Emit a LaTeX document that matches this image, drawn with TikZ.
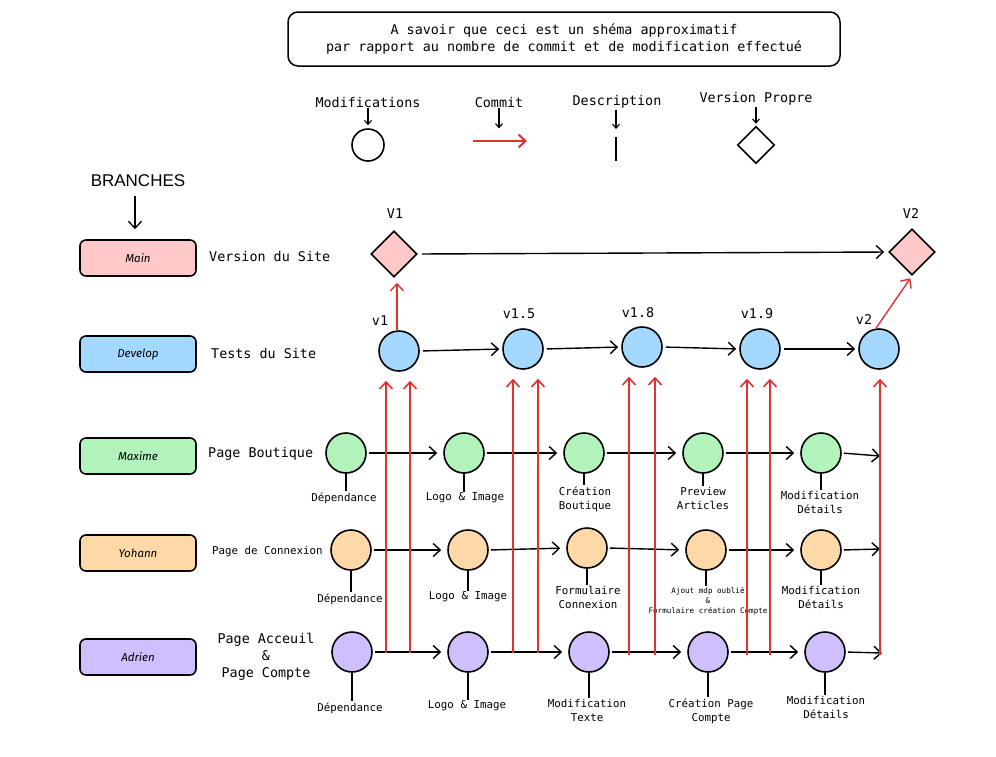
\documentclass[tikz,border=0pt]{standalone}
\usepackage{fontspec}
\setmainfont{DejaVu Sans Mono}
\newfontfamily\handfont{Fira Sans}
\newfontfamily\headfont{Liberation Sans}
\usetikzlibrary{arrows.meta,shapes.geometric}
\definecolor{cmain}{HTML}{FFC9C9}
\definecolor{cdev}{HTML}{A5D8FF}
\definecolor{cmax}{HTML}{B2F2BB}
\definecolor{cyoh}{HTML}{FFD8A8}
\definecolor{cadr}{HTML}{D0BFFF}
\definecolor{cred}{HTML}{E03131}
\tikzset{
  branchbox/.style={draw, rounded corners=6pt, line width=1.6pt, minimum width=116pt, minimum height=36pt, font=\handfont\itshape\fontsize{11.5}{13}\selectfont},
  modif/.style={draw, circle, minimum size=40pt, inner sep=0pt, line width=1.6pt},
  vers/.style={draw, diamond, minimum size=46pt, inner sep=0pt, line width=1.6pt},
  arr/.style={-{Straight Barb[length=7pt,width=13pt]}, line width=1.4pt},
  commitarr/.style={arr, draw=cred},
  desc/.style={line width=1.6pt},
  lbl/.style={font=\fontsize{10.8}{14}\selectfont, align=center, inner sep=1pt},
  big/.style={font=\fontsize{13.4}{17}\selectfont, align=center, inner sep=1pt},
  tiny/.style={font=\fontsize{7.6}{10}\selectfont, align=center, inner sep=1pt},
  smallarr/.style={line width=1.1pt, -{Straight Barb[length=4pt,width=7pt]}},
}
\begin{document}
\begin{tikzpicture}[x=1pt,y=-1pt]
\useasboundingbox[fill=white] (0,0) rectangle (996,756);

% top note
\node[draw, rounded corners=10pt, line width=1.5pt, minimum width=552pt, minimum height=54pt, big] (note) at (564,39)
  {A savoir que ceci est un shéma approximatif\\par rapport au nombre de commit et de modification effectué};

% legend
\node[big] (lgm) at (368,102) {Modifications};
\node[modif, minimum size=32pt] (lgc) at (368,145) {};
\draw[smallarr] (lgm.south) -- ([yshift=3pt]lgc.north);
\node[big] (lgco) at (499,102) {Commit};
\coordinate (lga) at (473,141);
\coordinate (lgb) at (527,141);
\draw[commitarr, line width=2pt] (lga) -- (lgb);
\draw[smallarr] (lgco.south) -- ++(0,20);
\node[big] (lgd) at (617,102) {Description};
\coordinate (lgd1) at (616,137);
\coordinate (lgd2) at (616,161);
\draw[desc] (lgd1) -- (lgd2);
\draw[smallarr] (lgd.south -| lgd1) -- ([yshift=8pt]lgd1);
\node[big] (lgv) at (756,99) {Version Propre};
\node[vers, minimum size=37pt] (lgdi) at (756,145) {};
\draw[smallarr] (lgv.south) -- ([yshift=2pt]lgdi.north);

% branches header
\node[font=\headfont\fontsize{17}{20}\selectfont] (br) at (138,181) {BRANCHES};
\node[branchbox, fill=cmain] (bmain) at (138,258) {Main};
\draw[arr, line width=1.3pt] (br.south) ++(-3,5) coordinate (bra) -- (bra |- bmain.north) [shorten >=10pt];
\node[branchbox, fill=cdev] (bdev) at (138,354) {Develop};
\node[branchbox, fill=cmax] (bmax) at (138,456) {Maxime};
\node[branchbox, fill=cyoh] (byoh) at (138,553) {Yohann};
\node[branchbox, fill=cadr] (badr) at (138,657) {Adrien};

\node[big, anchor=west] at (208,256) {Version du Site};
\node[big, anchor=west] at (210,353) {Tests du Site};
\node[big, anchor=west] at (207,454) {Page Boutique};
\node[lbl, anchor=west] at (211,552) {Page de Connexion};
\node[big] at (266,657) {Page Acceuil\\\&\\Page Compte};

% main
\node[vers, fill=cmain] (V1) at (394,254) {};
\node[vers, fill=cmain] (V2) at (912,252) {};
\node[big] at (395,214) {V1};
\node[big] at (911,214) {V2};
\draw[arr] (V1.east) -- (V2.west) [shorten <=4pt, shorten >=4pt];

% develop
\node[modif, fill=cdev] (d1) at (399,351) {};
\node[modif, fill=cdev] (d2) at (523,349) {};
\node[modif, fill=cdev] (d3) at (642,347) {};
\node[modif, fill=cdev] (d4) at (760,349) {};
\node[modif, fill=cdev] (d5) at (879,349) {};
\node[big] at (380,321) {v1};
\node[big] at (519,314) {v1.5};
\node[big] at (638,313) {v1.8};
\node[big] at (757,314) {v1.9};
\node[big] at (864,320) {v2};
\foreach \a/\b in {d1/d2,d2/d3,d3/d4,d4/d5}
  \draw[arr, shorten <=3pt, shorten >=3pt] (\a.east) -- (\b.west);
\draw[commitarr, shorten >=5pt] ([xshift=-2pt]d1.north) -- ([xshift=-2pt]d1.north |- V1.south);
\draw[commitarr, shorten >=3pt] ([xshift=-3pt]d5.north) -- (V2.south);

% Maxime
\node[modif, fill=cmax] (m1) at (346,453) {};
\node[modif, fill=cmax] (m2) at (464,453) {};
\node[modif, fill=cmax] (m3) at (584,453) {};
\node[modif, fill=cmax] (m4) at (703,453) {};
\node[modif, fill=cmax] (m5) at (821,453) {};
\coordinate (m6) at (880,456);
\node[lbl] (lm1) at (344,498) {Dépendance};
\node[lbl] (lm2) at (465,498) {Logo \& Image};
\node[lbl] (lm3) at (585,499) {Création\\Boutique};
\node[lbl] (lm4) at (703,498) {Preview\\Articles};
\node[lbl] (lm5) at (820,502) {Modification\\Détails};
\foreach \i in {1,...,5} \draw[desc] (m\i.south) -- (m\i.south |- lm\i.north);
\foreach \a/\b in {m1/m2,m2/m3,m3/m4,m4/m5}
  \draw[arr, shorten <=2pt, shorten >=6pt] (\a.east) -- (\b.west);
\draw[arr, shorten <=2pt] (m5.east) -- (m6);

% Yohann
\node[modif, fill=cyoh] (y1) at (351,550) {};
\node[modif, fill=cyoh] (y2) at (468,550) {};
\node[modif, fill=cyoh] (y3) at (587,548) {};
\node[modif, fill=cyoh] (y4) at (706,550) {};
\node[modif, fill=cyoh] (y5) at (821,550) {};
\coordinate (y6) at (880,549);
\node[lbl] (ly1) at (350,599) {Dépendance};
\node[lbl] (ly2) at (468,597) {Logo \& Image};
\node[lbl] (ly3) at (588,597) {Formulaire\\Connexion};
\node[tiny] (ly4) at (708,601) {Ajout mdp oublié\\\&\\Formulaire création Compte};
\node[lbl] (ly5) at (821,597) {Modification\\Détails};
\foreach \i in {1,...,5} \draw[desc] (y\i.south) -- (y\i.south |- ly\i.north);
\foreach \a/\b in {y1/y2,y2/y3,y3/y4,y4/y5}
  \draw[arr, shorten <=2pt, shorten >=6pt] (\a.east) -- (\b.west);
\draw[arr, shorten <=2pt] (y5.east) -- (y6);

% Adrien
\node[modif, fill=cadr] (a1) at (352,652) {};
\node[modif, fill=cadr] (a2) at (468,652) {};
\node[modif, fill=cadr] (a3) at (589,652) {};
\node[modif, fill=cadr] (a4) at (708,652) {};
\node[modif, fill=cadr] (a5) at (825,652) {};
\coordinate (a6) at (882,653);
\node[lbl] (la1) at (350,708) {Dépendance};
\node[lbl] (la2) at (467,706) {Logo \& Image};
\node[lbl] (la3) at (587,710) {Modification\\Texte};
\node[lbl] (la4) at (711,711) {Création Page\\Compte};
\node[lbl] (la5) at (826,707) {Modification\\Détails};
\foreach \i in {1,...,5} \draw[desc] (a\i.south) -- (a\i.south |- la\i.north);
\foreach \a/\b in {a1/a2,a2/a3,a3/a4,a4/a5}
  \draw[arr, shorten <=2pt, shorten >=6pt] (\a.east) -- (\b.west);
\draw[arr, shorten <=2pt] (a5.east) -- (a6);

% commits from feature branches to develop
\coordinate (c1a) at (386,653);
\coordinate (c1b) at (410,653);
\coordinate (c2a) at (513,653);
\coordinate (c2b) at (538,653);
\coordinate (c3a) at (629,655);
\coordinate (c3b) at (655,655);
\coordinate (c4a) at (747,655);
\coordinate (c4b) at (770,655);
\coordinate (c5a) at (880,655);
\foreach \c/\d in {c1a/d1,c1b/d1,c2a/d2,c2b/d2,c3a/d3,c3b/d3,c4a/d4,c4b/d4,c5a/d5}
  \draw[commitarr, line width=1.6pt, shorten >=9pt] (\c) -- (\c |- \d.south);
\end{tikzpicture}
\end{document}
